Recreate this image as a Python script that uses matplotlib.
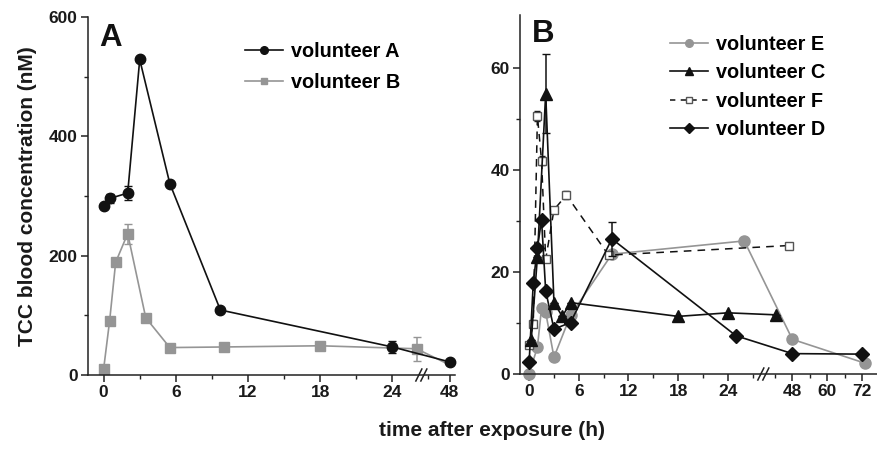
import numpy as np
import matplotlib
matplotlib.use("Agg")
import matplotlib.pyplot as plt
from matplotlib.lines import Line2D

plt.rcParams['font.family'] = ['Liberation Sans', 'DejaVu Sans']
plt.rcParams['font.weight'] = 'bold'

# ---- panel A data (time in h, TCC in nM)
t_a = [0, 0.5, 2, 3, 5.5, 9.7, 24, 48]
vol_a = [283, 296, 305, 529, 321, 109, 47, 22]
err_a = [0, 8, 12, 0, 0, 0, 10, 0]

t_b = [0, 0.5, 1, 2, 3.5, 5.5, 10, 18, 26, 48]
vol_b = [10, 91, 189, 237, 96, 46, 47, 49, 44, 17]
err_b = [0, 0, 0, 17, 0, 0, 0, 0, 20, 0]

# ---- panel B data
t_e = [0, 1, 1.5, 2, 3, 5, 10, 26, 48, 73]
vol_e = [0, 5.3, 12.9, 12.1, 3.3, 11.5, 23.5, 26.1, 6.8, 2.1]

t_c = [0.25, 1, 2, 3, 4, 5, 18, 24, 42.5]
vol_c = [6.6, 23, 55, 14, 11.3, 14, 11.3, 12.0, 11.6]
err_c = [0, 0, 7.8, 0, 0, 0, 0, 0, 0]

t_f = [0, 0.5, 1, 1.5, 2, 3, 4.5, 9.6, 47]
vol_f = [5.7, 9.9, 50.6, 41.8, 22.5, 32.2, 35.1, 23.3, 25.2]
err_f = [0.6, 0.6, 0.9, 0.9, 0.6, 0.6, 0.8, 0.6, 0.5]

t_d = [0, 0.5, 1, 1.5, 2, 3, 5, 10, 25, 48, 72]
vol_d = [2.3, 17.9, 24.8, 30.2, 16.3, 8.8, 10.1, 26.5, 7.5, 4.0, 3.9]
err_d = [0, 0, 0, 0, 0, 0, 0, 3.4, 0, 0, 0]

BLACK = '#111111'
GREY = '#959595'


def broken_scale(h_knots, p_knots):
    def fwd(h):
        return np.interp(h, h_knots, p_knots)

    def inv(p):
        return np.interp(p, p_knots, h_knots)
    return fwd, inv


def style_axis(ax):
    for s in ['top', 'right']:
        ax.spines[s].set_visible(False)
    for s in ['left', 'bottom']:
        ax.spines[s].set_linewidth(1.1)
        ax.spines[s].set_color('#222222')
    ax.tick_params(which='major', direction='out', length=5, width=1.1,
                   labelsize=12.5, pad=2.5, colors='#222222')
    ax.tick_params(which='minor', direction='out', length=3, width=1.0,
                   colors='#222222')
    for lab in ax.get_xticklabels() + ax.get_yticklabels():
        lab.set_fontweight('bold')
        lab.set_color('#1a1a1a')


def break_mark(ax, h):
    xd = ax.transData.transform((h, 0))
    xf = ax.transAxes.inverted().transform(xd)[0]
    bb = ax.get_window_extent()
    dx = 3.0 / bb.width
    dy = 6.0 / bb.height
    for off in (-2.5 / bb.width, 2.5 / bb.width):
        ax.plot([xf + off - dx, xf + off + dx], [-dy, dy], color='#222222',
                lw=1.1, transform=ax.transAxes, clip_on=False)


fig = plt.figure(figsize=(8.78, 4.49), dpi=100)

# ---------------- panel A
axA = fig.add_axes([0.1002, 0.1648, 0.418, 0.797])
fa, ia = broken_scale([-10, 26.4, 32.7, 100], [-10, 26.4, 26.45, 26.45 + 67.3 * 0.15])
axA.set_xscale('function', functions=(fa, ia))

axA.errorbar(t_b, vol_b, yerr=err_b, color=GREY, lw=1.2, marker='s', ms=6.5,
             mec=GREY, mfc=GREY, capsize=3, elinewidth=1.1, markevery=list(range(len(t_b) - 1)),
             label='volunteer B', clip_on=False, zorder=2)
axA.errorbar(t_a, vol_a, yerr=err_a, color=BLACK, lw=1.2, marker='o', ms=7.5,
             capsize=3, elinewidth=1.1, label='volunteer A', clip_on=False, zorder=3)

axA.set_xlim(-1.3, 51)
axA.set_ylim(0, 600)
axA.set_xticks([0, 6, 12, 18, 24, 48])
axA.set_xticks([3, 9, 15, 21, 36], minor=True)
axA.set_yticks([0, 200, 400, 600])
axA.set_yticks([100, 300, 500], minor=True)
style_axis(axA)
axA.set_ylabel('TCC blood concentration (nM)', fontsize=15, fontweight='bold',
               color='#1a1a1a')
axA.yaxis.set_label_coords(-0.14, 0.5)
axA.text(0.03, 0.985, 'A', transform=axA.transAxes, fontsize=22.5,
         fontweight='bold', va='top', ha='left', color='#111111')

hA = [Line2D([], [], color=BLACK, marker='o', ms=5.5, lw=1.2),
      Line2D([], [], color=GREY, marker='s', ms=5, lw=1.2)]
axA.legend(hA, ['volunteer A', 'volunteer B'], loc='upper left',
           bbox_to_anchor=(0.428, 0.93), frameon=False, handlelength=1.9,
           handletextpad=0.4, labelspacing=0.58, borderpad=0, borderaxespad=0,
           prop={'weight': 'bold', 'size': 14.3})

# ---------------- panel B
axB = fig.add_axes([0.5923, 0.167, 0.4066, 0.7996])
fb, ib = broken_scale([-10, 28.3, 38.2, 100],
                      [-10, 28.3, 28.35, 31.8 + (100 - 48) * 0.353])
axB.set_xscale('function', functions=(fb, ib))

axB.plot(t_e, vol_e, color=GREY, lw=1.2, marker='o', ms=8, mec=GREY,
         mfc=GREY, clip_on=False, zorder=2)
axB.errorbar(t_c, vol_c, yerr=err_c, color=BLACK, lw=1.2, marker='^', ms=8,
             capsize=3, elinewidth=1.1, clip_on=False, zorder=4)
axB.errorbar(t_f, vol_f, yerr=err_f, color=BLACK, lw=1.1, ls=(0, (5, 4)),
             marker='s', ms=6, mfc='white', mec='#555555', mew=1.0,
             capsize=2, elinewidth=0.9, clip_on=False, zorder=3)
axB.errorbar(t_d, vol_d, yerr=err_d, color=BLACK, lw=1.2, marker='D', ms=7.5,
             capsize=3, elinewidth=1.1, clip_on=False, zorder=5)

axB.set_xlim(-1.1, 77)
axB.set_ylim(0, 70.4)
axB.set_xticks([0, 6, 12, 18, 24, 48, 60, 72])
axB.set_xticks([3, 9, 15, 21, 27, 42, 54, 66], minor=True)
axB.set_yticks([0, 20, 40, 60])
axB.set_yticks([10, 30, 50], minor=True)
style_axis(axB)
axB.text(0.032, 0.99, 'B', transform=axB.transAxes, fontsize=22.5,
         fontweight='bold', va='top', ha='left', color='#111111')

hB = [Line2D([], [], color=GREY, marker='o', ms=5.5, lw=1.2),
      Line2D([], [], color=BLACK, marker='^', ms=5.5, lw=1.2),
      Line2D([], [], color=BLACK, marker='s', ms=5, mfc='white',
             mec='#555555', lw=1.1, ls=(0, (3.5, 3.5))),
      Line2D([], [], color=BLACK, marker='D', ms=5, lw=1.2)]
axB.legend(hB, ['volunteer E', 'volunteer C', 'volunteer F', 'volunteer D'],
           loc='upper left', bbox_to_anchor=(0.42, 0.944), frameon=False,
           handlelength=1.9, handletextpad=0.4, labelspacing=0.47,
           borderpad=0, borderaxespad=0,
           prop={'weight': 'bold', 'size': 14.3})

fig.text(0.5603, 0.042, 'time after exposure (h)', ha='center', va='center',
         fontsize=15, fontweight='bold', color='#1a1a1a')

fig.canvas.draw()
break_mark(axA, 26.42)
break_mark(axB, 28.32)

fig.savefig('out.png', dpi=100)
